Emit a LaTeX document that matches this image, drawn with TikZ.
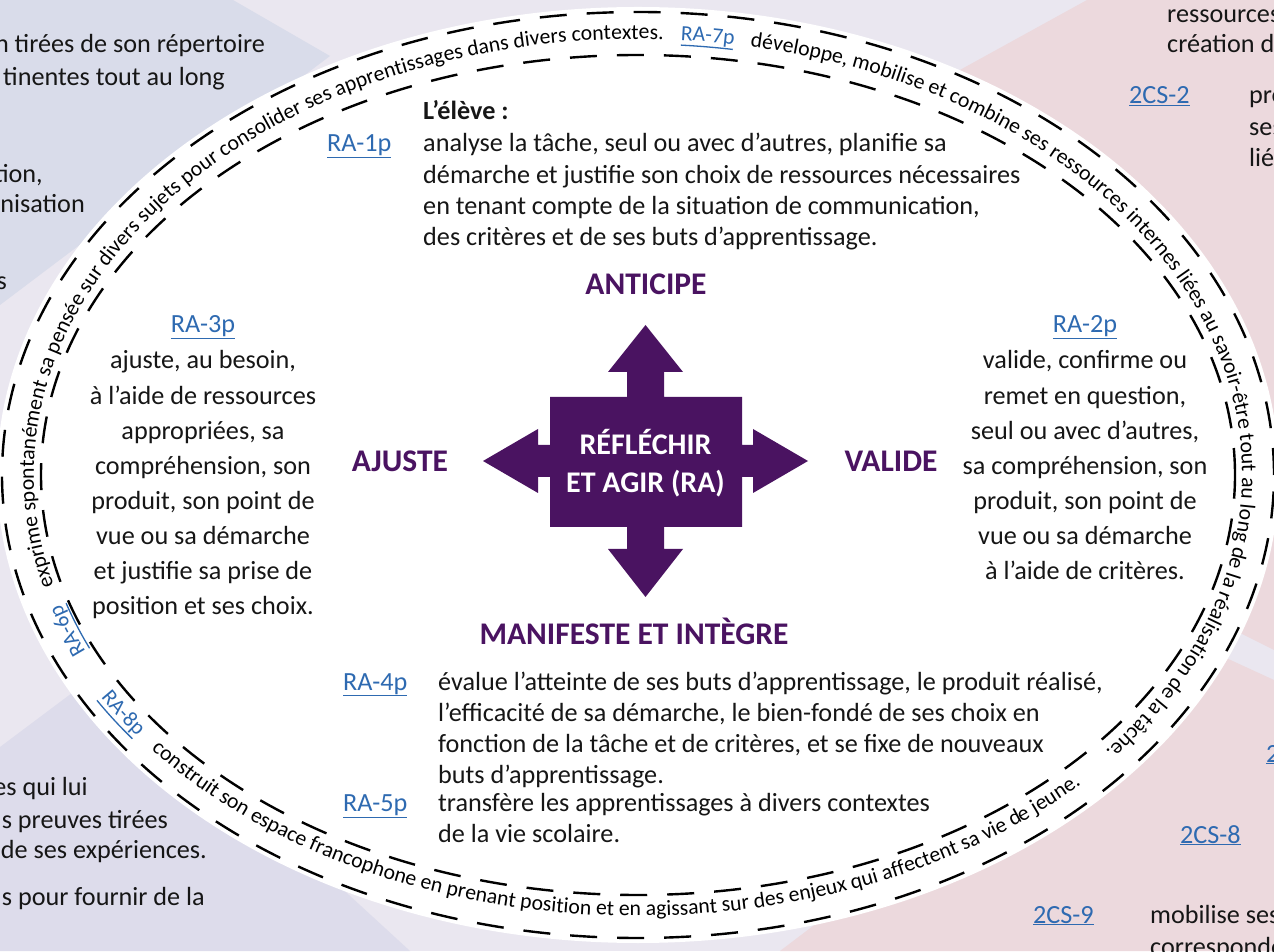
\documentclass[tikz,border=0pt]{standalone}
\usepackage{fontspec}
\setmainfont{Carlito}
\usetikzlibrary{decorations.text}
\definecolor{raviolet}{RGB}{74,19,97}
\definecolor{linkblue}{RGB}{46,106,177}
\definecolor{inkgray}{RGB}{22,22,22}
\definecolor{bgblue}{RGB}{217,220,234}
\definecolor{bgblue2}{RGB}{221,220,235}
\definecolor{bgpink}{RGB}{236,217,221}
\definecolor{bglight}{RGB}{234,231,240}
\newcommand\ringfont{\fontsize{21.7}{26}\selectfont}
\tikzset{
  bodytext/.style={font=\fontsize{26.2}{31}\selectfont, text=inkgray, inner sep=0pt},
  ratag/.style={bodytext, text=linkblue},
  headtxt/.style={font=\fontsize{31.5}{36}\selectfont\bfseries, text=raviolet, inner sep=0pt, anchor=base},
  boxtxt/.style={font=\fontsize{30}{36}\selectfont\bfseries, text=white, inner sep=0pt, anchor=base},
  dashring/.style={line width=2.4pt, dash pattern=on 27pt off 20pt},
  tagline/.style={linkblue, line width=1.3pt},
}

\begin{document}
\begin{tikzpicture}[x=1pt, y=1pt]
  \useasboundingbox (0,0) rectangle (1274,951);
  \clip (0,0) rectangle (1274,951);
  \coordinate (C) at (638,476);

  % background
  \fill[bglight] (0,0) rectangle (1274,951);
  \fill[bgblue] (0,951) -- (233,951) -- (330,895) -- (0,646) -- cycle;
  \fill[bgblue2] (0,204) -- (200,354) -- (300,101) -- (410,0) -- (0,0) -- cycle;
  \fill[bgpink] (1087,951) -- (1274,951) -- (1274,301) -- (1000,438) -- (800,793) -- cycle;
  \fill[bgpink] (1274,271) -- (1274,0) -- (780,0) -- (900,91) -- (1100,351) -- cycle;

  \node[bodytext, anchor=base east] (bgl1) at (265,898) {n tirées de son répertoire};
  \node[bodytext, anchor=base east] (bgl2) at (225,865) {tinentes tout au long};
  \node[bodytext, anchor=base east] (bgl3) at (43,768) {tion,};
  \node[bodytext, anchor=base east] (bgl4) at (85,738) {nisation};
  \node[bodytext, anchor=base east] (bgl5) at (7,661) {s};
  \node[bodytext, anchor=base east] (bgl6) at (88,156) {es qui lui};
  \node[bodytext, anchor=base east] (bgl7) at (168,123) {s preuves tirées};
  \node[bodytext, anchor=base east] (bgl8) at (207,93) {de ses expériences.};
  \node[bodytext, anchor=base east] (bgl9) at (205,46) {s pour fournir de la};
  \node[bodytext, anchor=base west] (bgr1) at (1167,928) {ressources};
  \node[bodytext, anchor=base west] (bgr2) at (1167,898) {création d};
  \node[ratag, anchor=base west] (cs2) at (1129,847) {\underline{2CS-2}};
  \node[bodytext, anchor=base west] (bgr3) at (1249,847) {pro};
  \node[bodytext, anchor=base west] (bgr4) at (1249,815) {ses};
  \node[bodytext, anchor=base west] (bgr5) at (1249,784) {lié};
  \node[ratag, anchor=base west] (csx) at (1266,189) {\underline{2}};
  \node[ratag, anchor=base west] (cs8) at (1180,108) {\underline{2CS-8}};
  \node[ratag, anchor=base west] (cs9) at (1033,28) {\underline{2CS-9}};
  \node[bodytext, anchor=base west] (bgr6) at (1150,28) {mobilise ses};
  \node[bodytext, anchor=base west] (bgr7) at (1150,-4) {corresponde};

  % ring
  \fill[white] (C) ellipse[x radius=641, y radius=468];
  \draw[dashring] (C) ellipse[x radius=636, y radius=463];
  \draw[dashring] (C) ellipse[x radius=597, y radius=420];

  \path[decorate, decoration={text along path, text align=center,
      text={|\ringfont\color{linkblue}|RA-6p}}]
    (C) ++(205:604 and 436) arc[start angle=205, end angle=196, x radius=604, y radius=436];
  \draw[tagline] (C) ++(203.7:599 and 431) arc[start angle=203.7, end angle=197.3, x radius=599, y radius=431];
  \path[decorate, decoration={text along path, text align=left,
      text={|\ringfont|exprime spontanément sa pensée sur divers sujets pour consolider ses apprentissages dans divers contextes.}}]
    (C) ++(194.7:604 and 436) arc[start angle=194.7, end angle=70, x radius=604, y radius=436];
  \path[decorate, decoration={text along path, text align=center,
      text={|\ringfont\color{linkblue}|RA-7p}}]
    (C) ++(88:604 and 436) arc[start angle=88, end angle=78.8, x radius=604, y radius=436];
  \draw[tagline] (C) ++(85.9:599 and 431) arc[start angle=85.9, end angle=80.9, x radius=599, y radius=431];
  \path[decorate, decoration={text along path, text align=left,
      text={|\ringfont|développe, mobilise et combine ses ressources internes liées au savoir-être tout au long de la réalisation de la tâche.}}]
    (C) ++(79.3:604 and 436) arc[start angle=79.3, end angle=-75, x radius=604, y radius=436];
  \path[decorate, decoration={text along path, text align=center,
      text={|\ringfont\color{linkblue}|RA-8p}}]
    (C) ++(209:622 and 441) arc[start angle=209, end angle=217.6, x radius=622, y radius=441];
  \draw[tagline] (C) ++(210.35:627 and 446) arc[start angle=210.35, end angle=216.25, x radius=627, y radius=446];
  \path[decorate, decoration={text along path, text align=left,
      text={|\ringfont|construit son espace francophone en prenant position et en agissant sur des enjeux qui affectent sa vie de jeune.}}]
    (C) ++(218.5:622 and 441) arc[start angle=218.5, end angle=345, x radius=622, y radius=441];

  % centre
  \fill[raviolet] (550,554) -- (627,554) -- (627,579) -- (608,579) -- (645.5,626) -- (683,579) -- (664,579)
    -- (664,554) -- (742,554) -- (742,506) -- (753,506) -- (753,522) -- (808,490) -- (753,458) -- (753,474)
    -- (742,474) -- (742,424) -- (664,424) -- (664,402) -- (683,402) -- (645.5,354) -- (608,402) -- (627,402)
    -- (627,424) -- (550,424) -- (550,474) -- (538,474) -- (538,458) -- (483,490) -- (538,522) -- (538,506)
    -- (550,506) -- cycle;
  \node[boxtxt] (ra-a) at (645.5,496) {RÉFLÉCHIR};
  \node[boxtxt] (ra-b) at (645.5,458.3) {ET AGIR (RA)};

  \node[headtxt] (anticipe) at (646,656) {ANTICIPE};
  \node[headtxt] (ajuste) at (400,479) {AJUSTE};
  \node[headtxt] (valide) at (891,479) {VALIDE};
  \node[headtxt] (manifeste) at (634,306) {MANIFESTE ET INTÈGRE};

  % RA-1p
  \node[bodytext, font=\fontsize{26.2}{31}\selectfont\bfseries, anchor=base west] (eleve) at (423,831) {L’élève :};
  \node[ratag, anchor=base west] (ra1) at (327,799) {\underline{RA-1p}};
  \foreach \ln [count=\i] in {{analyse la tâche, seul ou avec d’autres, planifie sa},
      {démarche et justifie son choix de ressources nécessaires},
      {en tenant compte de la situation de communication,},
      {des critères et de ses buts d’apprentissage.}}
    \node[bodytext, anchor=base west] (ra1-\i) at (423,{799-31.1*(\i-1)}) {\ln};

  % RA-3p
  \node[ratag, anchor=base] (ra3) at (203,618) {\underline{RA-3p}};
  \foreach \ln [count=\i] in {{ajuste, au besoin,},{à l’aide de ressources},{appropriées, sa},
      {compréhension, son},{produit, son point de},{vue ou sa démarche},
      {et justifie sa prise de},{position et ses choix.}}
    \node[bodytext, anchor=base] (ra3-\i) at (203,{582-35.1*(\i-1)}) {\ln};

  % RA-2p
  \node[ratag, anchor=base] (ra2) at (1085,618) {\underline{RA-2p}};
  \foreach \ln [count=\i] in {{valide, confirme ou},{remet en question,},{seul ou avec d’autres,},
      {sa compréhension, son},{produit, son point de},{vue ou sa démarche},
      {à l’aide de critères.}}
    \node[bodytext, anchor=base] (ra2-\i) at (1085,{582-35.1*(\i-1)}) {\ln};

  % RA-4p, RA-5p
  \node[ratag, anchor=base west] (ra4) at (343,261) {\underline{RA-4p}};
  \foreach \ln [count=\i] in {{évalue l’atteinte de ses buts d’apprentissage, le produit réalisé,},
      {l’efficacité de sa démarche, le bien-fondé de ses choix en},
      {fonction de la tâche et de critères, et se fixe de nouveaux},
      {buts d’apprentissage.}}
    \node[bodytext, anchor=base west] (ra4-\i) at (438,{261-31.1*(\i-1)}) {\ln};
  \node[ratag, anchor=base west] (ra5) at (343,139.3) {\underline{RA-5p}};
  \foreach \ln [count=\i] in {{transfère les apprentissages à divers contextes},{de la vie scolaire.}}
    \node[bodytext, anchor=base west] (ra5-\i) at (438,{139.3-31.1*(\i-1)}) {\ln};
\end{tikzpicture}
\end{document}
